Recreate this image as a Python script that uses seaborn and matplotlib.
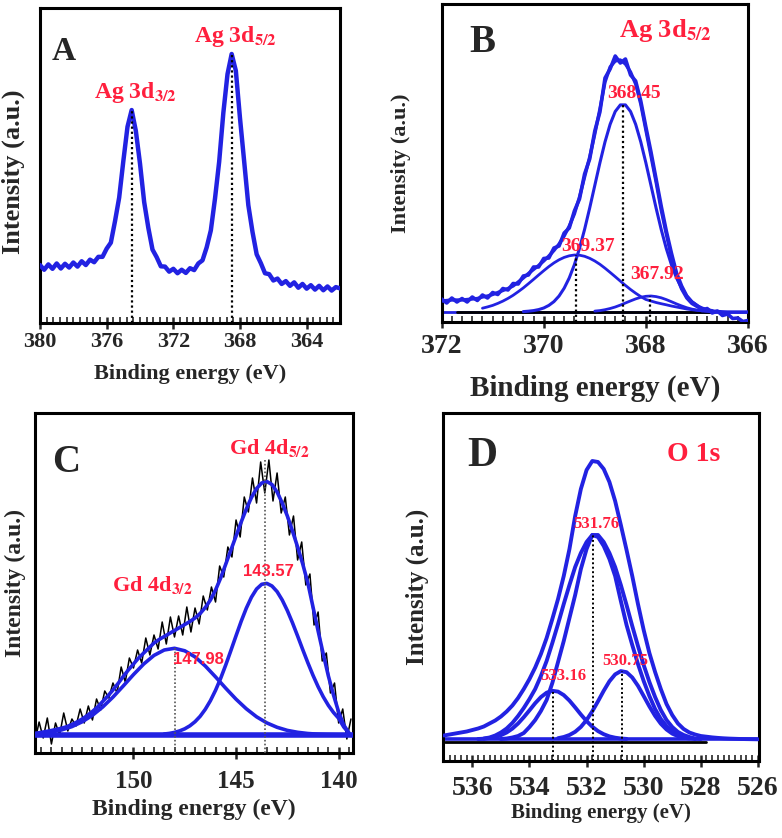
import numpy as np
import pandas as pd
import matplotlib
matplotlib.use("Agg")
import matplotlib.pyplot as plt
import seaborn as sns
from matplotlib.ticker import MultipleLocator, FormatStrFormatter

sns.set_style("ticks")
plt.rcParams['font.family'] = ['Liberation Serif', 'DejaVu Serif']
plt.rcParams['font.weight'] = 'bold'
plt.rcParams['mathtext.fontset'] = 'stix'
plt.rcParams['mathtext.default'] = 'bf'

BLUE = '#2222e2'
RED = '#ff1f3d'

# ---------------- Panel A : Ag 3d survey ----------------
a_x = np.linspace(380, 362, 73)
a_raw = [18.4, 16.9, 18.6, 17.2, 18.9, 17.3, 18.8, 17.6, 19.2, 17.9, 19.6, 18.4, 20.1, 19.3, 21.0,
         21.0, 23.6, 25.5, 32.3, 39.8, 51.4, 62.3, 67.6, 61.0, 50.6, 38.4, 30.2, 23.3, 20.9, 18.0,
         17.9, 16.3, 17.2, 15.8, 16.9, 15.9, 17.4, 16.8, 18.9, 19.9, 24.0, 29.4, 39.5, 51.2, 66.7,
         79.0, 85.4, 80.1, 65.0, 51.3, 37.4, 28.9, 21.8, 19.0, 15.8, 15.5, 13.5, 14.1, 12.4, 13.3,
         11.8, 12.9, 11.2, 12.4, 10.9, 12.0, 10.6, 11.8, 10.4, 11.6, 10.3, 11.4, 11.0]
a_peak_pos = [374.5, 368.5]
a_peak_top = [67.6, 85.4]

# ---------------- Panel B : Ag 3d5/2 fit ----------------
b_x = np.linspace(372, 366, 61)
b_raw = [23, 19, 24, 20, 23.5, 20, 25, 21.5, 27, 24, 29.5,
         27.5, 33.5, 32, 38.5, 38, 46, 47, 55, 55, 63.5,
         64, 74, 76, 89, 94, 111, 123, 148, 163, 191,
         210, 244, 253, 266, 259, 263, 247, 241, 221, 195,
         170, 143, 116, 91, 69, 49, 36, 26, 20, 16.5,
         11.5, 13.5, 9, 11, 6.5, 8, 3.5, 4, 0.5, 1.5]
b_env = [21, 21.5, 22, 22, 22, 22.5, 23, 23.5, 25, 26, 27.5,
         29.5, 31.5, 33.5, 36, 40, 44, 48.5, 52.5, 56.5, 61,
         66, 71.5, 78, 86, 96, 108, 125, 145, 165, 188,
         213, 240, 255, 261, 262, 258, 250, 238, 218, 192,
         166, 140, 112, 88, 65, 46, 33, 24, 18.5, 15.5,
         13.5, 12, 11, 10.5, 10.2, 10, 10, 10, 10, 10]
b_big_x = np.linspace(370.4, 366.7, 38)
b_big = [10.4, 10.8, 11.4, 12.4, 14.0, 16.6, 20.4, 26.0, 33.8, 44.1,
         57.3, 73.5, 92.6, 114, 136.6, 159.2, 180.1, 197.7, 210.5, 217.1,
         217.1, 210.5, 197.7, 180.1, 159.2, 136.6, 114, 92.6, 73.5, 57.3,
         44.1, 33.8, 26.0, 20.4, 16.6, 14.0, 12.4, 11.4]
b_broad_x = np.linspace(371.2, 366.7, 46)
b_broad = [13.8, 15.1, 16.6, 18.6, 20.9, 23.6, 26.7, 30.3, 34.1, 38.3,
           42.6, 47.0, 51.3, 55.4, 59.1, 62.2, 64.6, 66.2, 67.0, 66.8,
           65.7, 63.7, 61.0, 57.7, 53.8, 49.6, 45.3, 40.9, 36.6, 32.5,
           28.8, 25.4, 22.5, 21, 19.5, 18.3, 17.2, 16, 15, 14,
           13, 12.3, 11.7, 11.2, 10.8, 10.4]
b_small_x = np.linspace(369.0, 366.7, 24)
b_small = [10.9, 11.4, 12.3, 13.5, 15.0, 16.9, 19.0, 21.1, 23.1, 24.7,
           25.7, 26.0, 25.4, 24.2, 22.4, 20.3, 18.1, 16.1, 14.3, 12.9,
           11.9, 11.2, 10.7, 10.4]
b_peak_pos = [369.37, 368.45, 367.92]
b_peak_top = [67, 217, 26]
b_peak_lbl = ['369.37', '368.45', '367.92']
b_base_blue_x = [372, 366]
b_base_blue_y = [10, 10]
b_base_blk_x = [371.7, 366.7]
b_base_blk_y = [10, 10]

# ---------------- Panel C : Gd 4d ----------------
c_env_x = np.linspace(155, 139.5, 63)
c_env = [19, 19.8, 20.6, 21.5, 22.5, 23.6, 24.8, 26.3, 28.5, 31, 34, 37.5, 41.5, 46, 51.5,
         57, 63, 69.5, 76.5, 83, 89, 95, 100, 105, 110, 113.5, 116.5, 119.5, 122.5, 125.5,
         128.5, 131.5, 135, 139.5, 145.5, 153, 163, 175, 189, 203, 217, 231, 244, 255.5, 264.5,
         270, 271.5, 268.5, 261, 250, 237, 222, 206, 189, 170, 146, 122, 99, 77, 58, 41, 28, 20]
c_raw_x = np.linspace(155, 139.4, 79)
c_raw = [28, 12, 31, 15, 35, 9, 30, 18, 40, 22, 34, 27, 44, 30, 47, 33, 54, 43, 62, 55,
         70, 60, 86, 71, 95, 85, 103, 90, 115, 98, 118, 104, 131, 109, 136, 116, 137, 118, 146, 121,
         145, 129, 157, 143, 166, 151, 187, 176, 206, 196, 233, 216, 256, 241, 275, 250, 291, 260, 293, 252,
         280, 240, 256, 218, 237, 193, 211, 168, 179, 128, 141, 92, 100, 60, 70, 30, 44, 14, 34]
c_left_x = np.linspace(155, 139.5, 32)
c_left = [18.9, 19.7, 21.0, 23.1, 26.4, 31.2, 37.7, 46.0, 55.9, 67.0,
          78.4, 89.0, 97.6, 103.0, 104.7, 102.2, 96.1, 87.0, 76.1, 64.7,
          53.8, 44.2, 36.2, 30.1, 25.7, 22.6, 20.7, 19.5, 18.8, 18.4, 18.2, 18.1]
c_right_x = np.linspace(148.5, 139.5, 37)
c_right = [19.0, 19.6, 20.6, 22.1, 24.2, 27.2, 31.3, 36.7, 43.7, 52.3,
           62.7, 74.7, 88.2, 102.6, 117.3, 131.7, 144.8, 155.8, 164.0, 168.7,
           169.6, 167.0, 161.4, 153.0, 142.4, 130.2, 117.0, 103.4, 90.2, 77.7,
           66.3, 56.2, 47.6, 40.5, 34.7, 26, 20]
c_peak_pos = [147.98, 143.57]
c_peak_top = [104.7, 294]
c_base_x = [154.8, 139.3]
c_base_y = [18, 18]

# ---------------- Panel D : O 1s ----------------
d_env_x = np.linspace(537, 526, 56)
d_env = [25.5, 26.5, 27.5, 28.5, 29.5, 31, 32.5, 34.5, 37.5, 40.5, 44.5, 49.5, 55.5, 63, 72, 82,
         93.5, 107, 123, 142, 162, 185, 212, 245, 272, 291, 300, 299, 292, 279, 260, 236,
         211, 185, 157, 131, 108, 89, 72, 57, 46, 37.5, 32, 28.5, 26.5, 25, 24.3, 23.6,
         23.1, 22.7, 22.4, 22.2, 22, 21.9, 21.8, 21.7]
d_mid_x = np.linspace(535.6, 528.0, 39)
d_mid = [22.5, 23.5, 25.5, 28.5, 32.5, 38, 45, 53, 62, 72,
         85, 100, 118, 137, 157, 176, 194, 208, 219, 226,
         226, 219, 208, 194, 176, 156, 135, 115, 96, 79,
         64, 51, 41, 34, 29, 26, 24, 22.5, 22]
d_main_x = np.linspace(535.0, 528.2, 35)
d_main = [22, 22.5, 23.5, 25, 28, 34, 41, 50, 61, 78,
          99, 120, 143, 166, 192, 212, 226, 224, 215, 202,
          185, 160, 136, 116, 97, 80, 65, 52, 42, 35,
          30, 26, 24, 23, 22]
d_lo_x = np.linspace(535.8, 530.6, 27)
d_lo = [22.0, 22.3, 23.0, 24.0, 25.8, 28.5, 32.4, 37.5, 43.8, 50.7,
        57.8, 63.9, 68.3, 70.2, 69.4, 65.9, 60.4, 53.6, 46.5, 39.9,
        34.3, 29.9, 26.8, 24.6, 23.3, 22.5, 22.1]
d_hi_x = np.linspace(533.0, 528.4, 24)
d_hi = [22.8, 24.0, 26.0, 29.2, 34.1, 41.0, 49.7, 59.7, 70.2, 79.7,
        86.6, 89.9, 88.8, 83.5, 75.2, 65.0, 54.6, 45.1, 37.3, 31.5,
        27.4, 24.8, 23.3, 22.5]
d_peak_pos = [533.16, 531.76, 530.75]
d_peak_top = [70.2, 227, 90]
d_peak_lbl = ['533.16', '531.76', '530.75']
d_base_blue_x = [537, 526]
d_base_blue_y = [21.7, 21.7]
d_base_blk_x = [536.97, 527.8]
d_base_blk_y = [19.3, 19.3]

# ------------------------------------------------------------
W, H = 782, 838
fig = plt.figure(figsize=(W / 100, H / 100), dpi=100)


def rect(l, t, r, b):
    return [l / W, 1 - b / H, (r - l) / W, (b - t) / H]


axA = fig.add_axes(rect(40, 8, 340, 323))
axB = fig.add_axes(rect(441.6, 4, 748, 322))
axC = fig.add_axes(rect(35, 413, 353, 753))
axD = fig.add_axes(rect(443, 413, 759, 761))


def line(ax, x, y, color=BLUE, lw=2.5, zorder=3):
    df = pd.DataFrame({'x': np.asarray(x, float), 'y': np.asarray(y, float)})
    sns.lineplot(data=df, x='x', y='y', ax=ax, color=color, lw=lw, sort=False,
                 estimator=None, zorder=zorder, legend=False)


def style(ax, xlim, ylim, major, minor, fs, pad):
    ax.set_xlim(*xlim)
    ax.set_ylim(*ylim)
    ax.xaxis.set_major_locator(MultipleLocator(major))
    ax.xaxis.set_minor_locator(MultipleLocator(minor))
    ax.xaxis.set_major_formatter(FormatStrFormatter('%d'))
    ax.set_yticks([])
    ax.tick_params(axis='x', which='major', direction='inout', length=9, width=1.8,
                   labelsize=fs, pad=pad, bottom=True, top=False)
    ax.tick_params(axis='x', which='minor', direction='in', length=4, width=1.2,
                   bottom=True, top=False)
    for lbl in ax.get_xticklabels():
        lbl.set_fontweight('bold')
    for s in ax.spines.values():
        s.set_visible(True)
        s.set_linewidth(2.2)
        s.set_color('black')


def dotted(ax, pos, top, color='black', lw=1.6):
    ax.vlines(pos, 0, top, colors=color, linestyles=(0, (1, 1.3)), lw=lw, zorder=4)


# ---- A ----
line(axA, a_x, a_raw, lw=3.2)
dotted(axA, a_peak_pos, a_peak_top)
style(axA, (380, 362), (0, 100), 4, 0.4, 16, 2)
axA.set_xlabel('Binding energy (eV)', fontsize=16, fontweight='bold')
axA.xaxis.set_label_coords(0.5, -0.13)
axA.set_ylabel('Intensity (a.u.)', fontsize=19, fontweight='bold')
axA.yaxis.set_label_coords(-0.05, 0.48)
axA.text(378.56, 86.3, 'A', fontsize=24, fontweight='bold', ha='center', va='center')
axA.text(374.3, 73.3, r'Ag 3d$_{3/2}$', color=RED, fontsize=17, fontweight='bold',
         ha='center', va='center')
axA.text(368.3, 91.1, r'Ag 3d$_{5/2}$', color=RED, fontsize=17, fontweight='bold',
         ha='center', va='center')

# ---- B ----
line(axB, b_base_blue_x, b_base_blue_y, lw=2.0, zorder=2)
line(axB, b_base_blk_x, b_base_blk_y, color='black', lw=2.0, zorder=2.5)
line(axB, b_x, b_raw, lw=2.6)
line(axB, b_x, b_env, lw=2.4)
line(axB, b_big_x, b_big, lw=2.2)
line(axB, b_broad_x, b_broad, lw=2.0)
line(axB, b_small_x, b_small, lw=2.0)
dotted(axB, b_peak_pos, b_peak_top)
style(axB, (372, 366), (0, 318), 2, 0.2, 20, 4)
axB.set_xlabel('Binding energy (eV)', fontsize=21, fontweight='bold')
axB.xaxis.set_label_coords(0.5, -0.165)
axB.set_ylabel('Intensity (a.u.)', fontsize=16, fontweight='bold')
axB.yaxis.set_label_coords(-0.10, 0.5)
axB.text(371.2, 279.5, 'B', fontsize=28, fontweight='bold', ha='center', va='center')
axB.text(367.62, 292, r'Ag 3d$_{5/2}$', color=RED, fontsize=19, fontweight='bold',
         ha='center', va='center')
for xx, yy, t in zip([369.13, 368.24, 367.78], [75.5, 229, 47.5], b_peak_lbl):
    axB.text(xx, yy, t, color=RED, fontsize=14, fontweight='bold', ha='center', va='center',
             zorder=6)

# ---- C ----
line(axC, c_raw_x, c_raw, color='black', lw=1.1, zorder=2)
line(axC, c_base_x, c_base_y, lw=4.0, zorder=3)
line(axC, c_env_x, c_env, lw=2.6)
line(axC, c_left_x, c_left, lw=2.6)
line(axC, c_right_x, c_right, lw=2.6)
dotted(axC, c_peak_pos, c_peak_top, color='#555555', lw=1.2)
style(axC, (154.8, 139.3), (0, 340), 5, 0.5, 18, 8)
axC.set_xlabel('Binding energy (eV)', fontsize=17, fontweight='bold')
axC.xaxis.set_label_coords(0.5, -0.135)
axC.set_ylabel('Intensity (a.u.)', fontsize=17, fontweight='bold')
axC.yaxis.set_label_coords(-0.028, 0.5)
axC.text(153.26, 290, 'C', fontsize=28, fontweight='bold', ha='center', va='center')
axC.text(143.4, 304, r'Gd 4d$_{5/2}$', color=RED, fontsize=16, fontweight='bold',
         ha='center', va='center')
axC.text(149.06, 167, r'Gd 4d$_{3/2}$', color=RED, fontsize=16, fontweight='bold',
         ha='center', va='center')
axC.text(143.4, 181.5, '143.57', color=RED, fontsize=12, fontweight='bold',
         family=['Liberation Sans', 'DejaVu Sans'], ha='center', va='center', zorder=6)
axC.text(146.84, 94, '147.98', color=RED, fontsize=12, fontweight='bold',
         family=['Liberation Sans', 'DejaVu Sans'], ha='center', va='center', zorder=6)

# ---- D ----
line(axD, d_base_blue_x, d_base_blue_y, lw=2.6, zorder=2)
line(axD, d_base_blk_x, d_base_blk_y, color='black', lw=2.0, zorder=2.5)
line(axD, d_env_x, d_env, lw=2.8)
line(axD, d_mid_x, d_mid, lw=2.8)
line(axD, d_main_x, d_main, lw=2.8)
line(axD, d_lo_x, d_lo, lw=2.8)
line(axD, d_hi_x, d_hi, lw=2.8)
dotted(axD, d_peak_pos, d_peak_top, lw=1.4)
style(axD, (537.03, 525.96), (0, 348), 2, 0.2, 20, 6)
axD.set_xlabel('Binding energy (eV)', fontsize=15, fontweight='bold')
axD.xaxis.set_label_coords(0.5, -0.12)
axD.set_ylabel('Intensity (a.u.)', fontsize=18, fontweight='bold')
axD.yaxis.set_label_coords(-0.045, 0.5)
axD.text(535.67, 305, 'D', fontsize=30, fontweight='bold', ha='center', va='center')
axD.text(528.25, 307, 'O 1s', color=RED, fontsize=20, fontweight='bold',
         ha='center', va='center')
for xx, yy, t in zip([532.8, 531.66, 530.66], [85.5, 237.5, 100.5], d_peak_lbl):
    axD.text(xx, yy, t, color=RED, fontsize=12, fontweight='bold', ha='center', va='center',
             zorder=6)

fig.savefig('out.png', dpi=100)
